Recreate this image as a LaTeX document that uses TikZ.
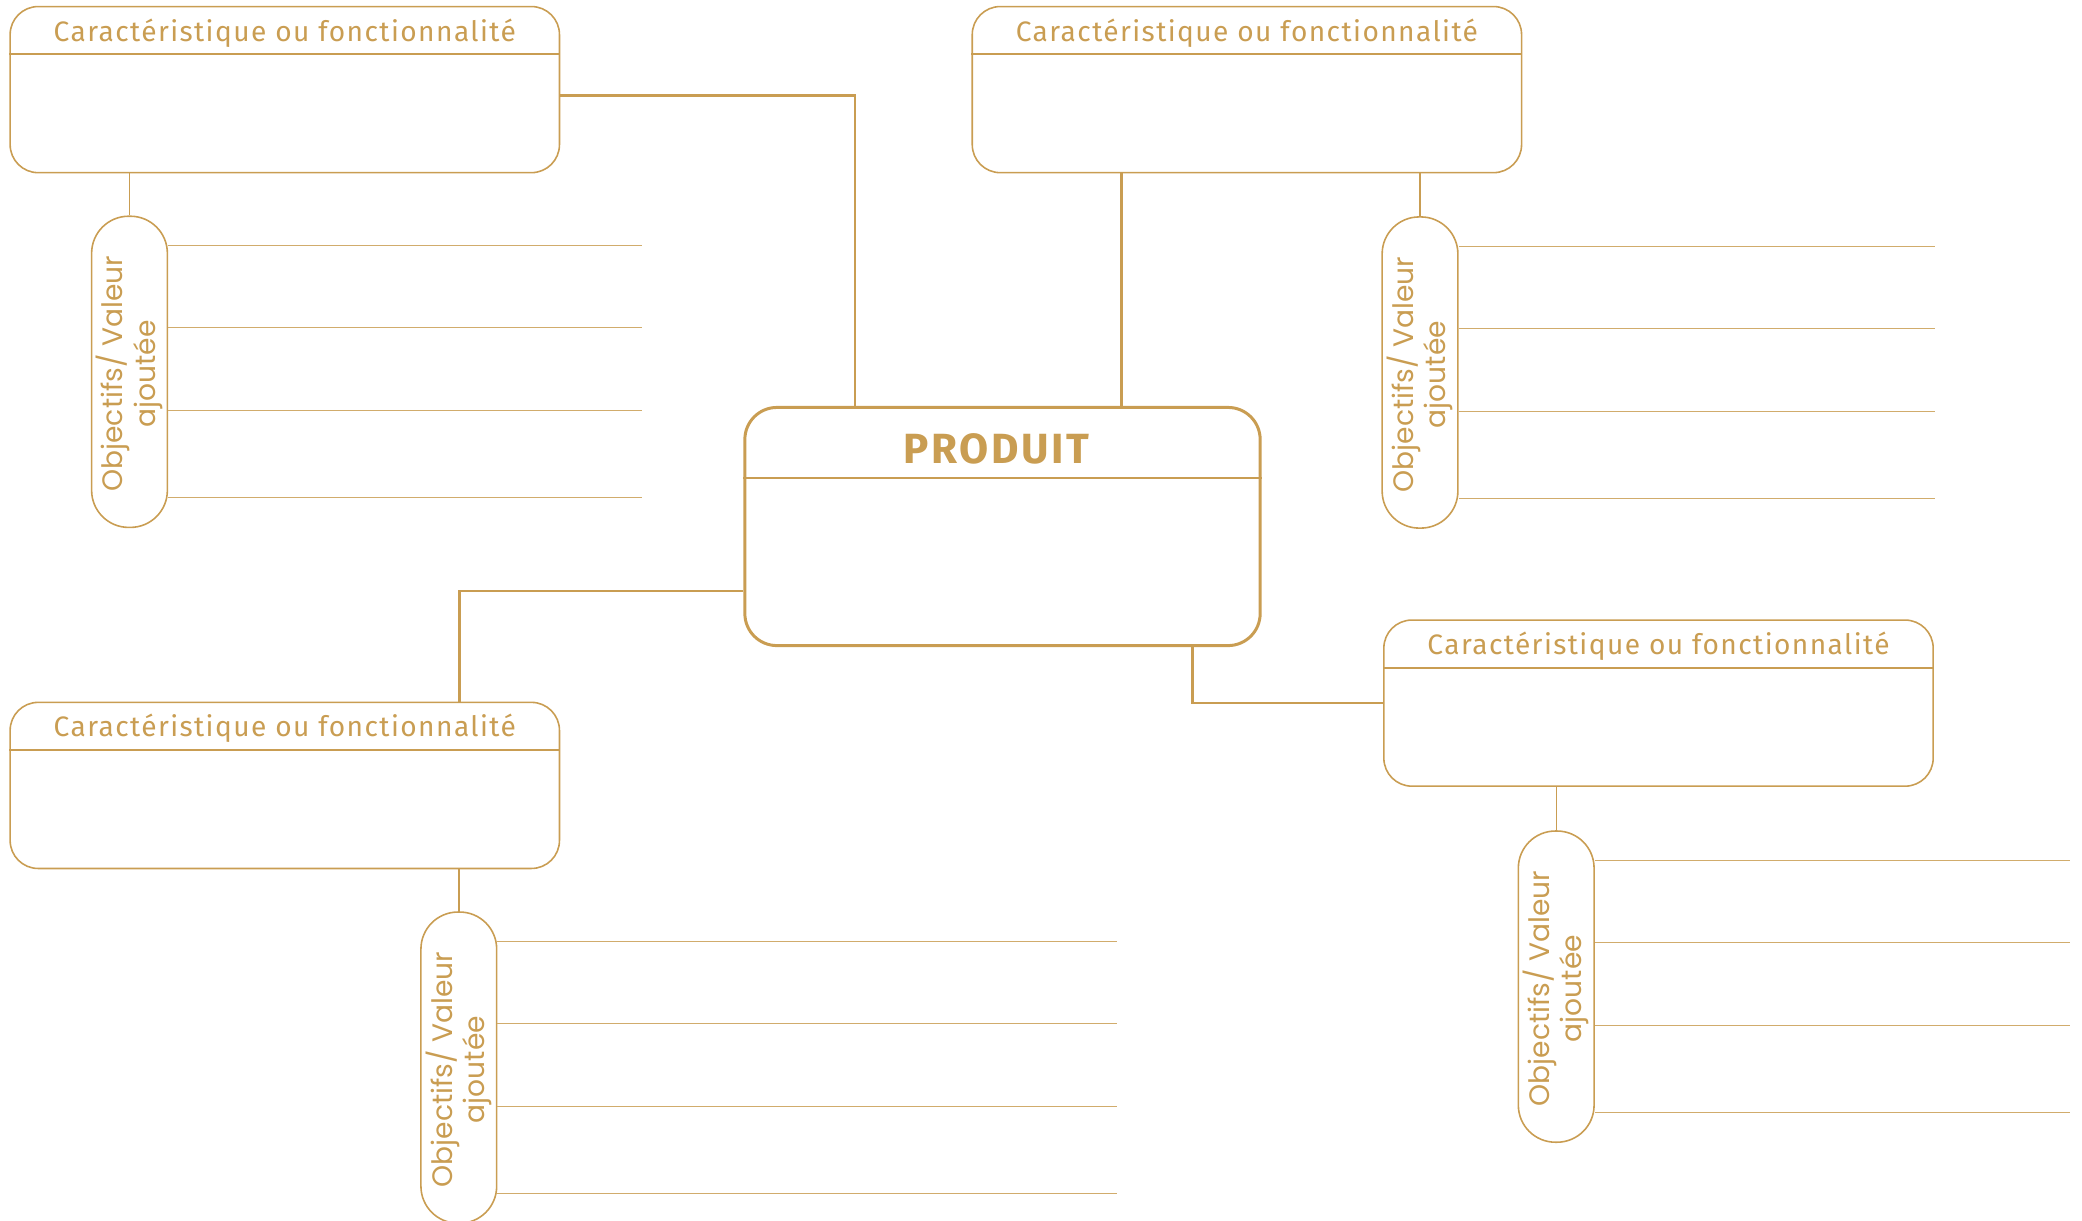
\documentclass[tikz,border=0pt]{standalone}
\usepackage{fontspec}
\setmainfont{Fira Sans}
\newfontfamily\headfont[LetterSpace=5]{Fira Sans}
\newfontfamily\pillfont{Poppins}
\usetikzlibrary{calc}
\definecolor{gold}{RGB}{201,157,82}
\tikzset{
  feat/.style={draw=gold,line width=0.45pt,rounded corners=0.28cm,minimum width=5.49cm,minimum height=1.66cm,inner sep=0pt},
  prod/.style={draw=gold,line width=0.85pt,rounded corners=0.32cm,minimum width=5.15cm,minimum height=2.38cm,inner sep=0pt},
  pill/.style={draw=gold,line width=0.45pt,rounded corners=0.37cm,minimum width=0.757cm,minimum height=3.11cm,inner sep=0pt},
  feattitle/.style={text=gold,font=\headfont\fontsize{8pt}{9.5pt}\selectfont,inner sep=0pt},
  prodtitle/.style={text=gold,font=\fontsize{12pt}{14pt}\selectfont\bfseries\addfontfeature{LetterSpace=6},inner sep=0pt},
  pilltext/.style={text=gold,rotate=90,align=center,font=\pillfont\fontsize{8pt}{9.2pt}\selectfont,inner sep=0pt},
  link/.style={draw=gold,line width=0.7pt},
  stem/.style={draw=gold,line width=0.4pt},
  rule/.style={draw=gold!85,line width=0.3pt}
}
\begin{document}
\begin{tikzpicture}[x=0.01cm,y=-0.01cm]
\clip (0,0) rectangle (2082,1220);
% produit au centre
\node[prod](prod)at(1002.5,526.5){};
\node[prodtitle](prodt)at($(prod.north)+(-6,43)$){PRODUIT};
\draw[gold,line width=0.6pt] ($(prod.north west)+(0,72)$) -- ($(prod.north east)+(0,72)$);
% caracteristiques
\foreach \n/\x/\y in {tl/284.8/89.6, tr/1246.9/89.6, bl/284.8/785.4, br/1658.5/703.1}{
  \node[feat](\n)at(\x,\y){};
  \node[feattitle](\n-t)at($(\n.north)+(0,27)$){Caractéristique ou fonctionnalité};
  \draw[gold,line width=0.45pt] ($(\n.north west)+(0,48.5)$) -- ($(\n.north east)+(0,48.5)$);
}
% objectifs
\foreach \n/\x/\y/\len in {tlp/129.5/371.8/474, trp/1420/372.5/476, blp/458.8/1067.6/620, brp/1556.2/986.6/475}{
  \node[pill](\n)at(\x,\y){};
  \node[pilltext](\n-t)at($(\n.center)+(0,2)$){Objectifs/ Valeur\\ajoutée};
  \foreach \o in {30,112.5,195,282}
    \draw[rule] ($(\n.north east)+(0,\o)$) -- ++(\len,0);
}
\draw[stem] (tl.south -| tlp.north) -- (tlp.north);
\draw[stem] (tr.south -| trp.north) -- (trp.north);
\draw[stem] (bl.south -| blp.north) -- (blp.north);
\draw[stem] (br.south -| brp.north) -- (brp.north);
% liens vers le produit
\draw[link] ($(tl.east)+(0,6)$) -| ($(prod.north west)+(111.5,0)$);
\coordinate (trs) at ($(tr.south west)+(150,0)$);
\draw[link] (trs) -- (trs |- prod.north);
\draw[link] ($(prod.west)+(0,64.4)$) -| ($(bl.north)+(174.6,0)$);
\draw[link] ($(prod.south)+(190,0)$) |- (br.west);
\end{tikzpicture}
\end{document}
